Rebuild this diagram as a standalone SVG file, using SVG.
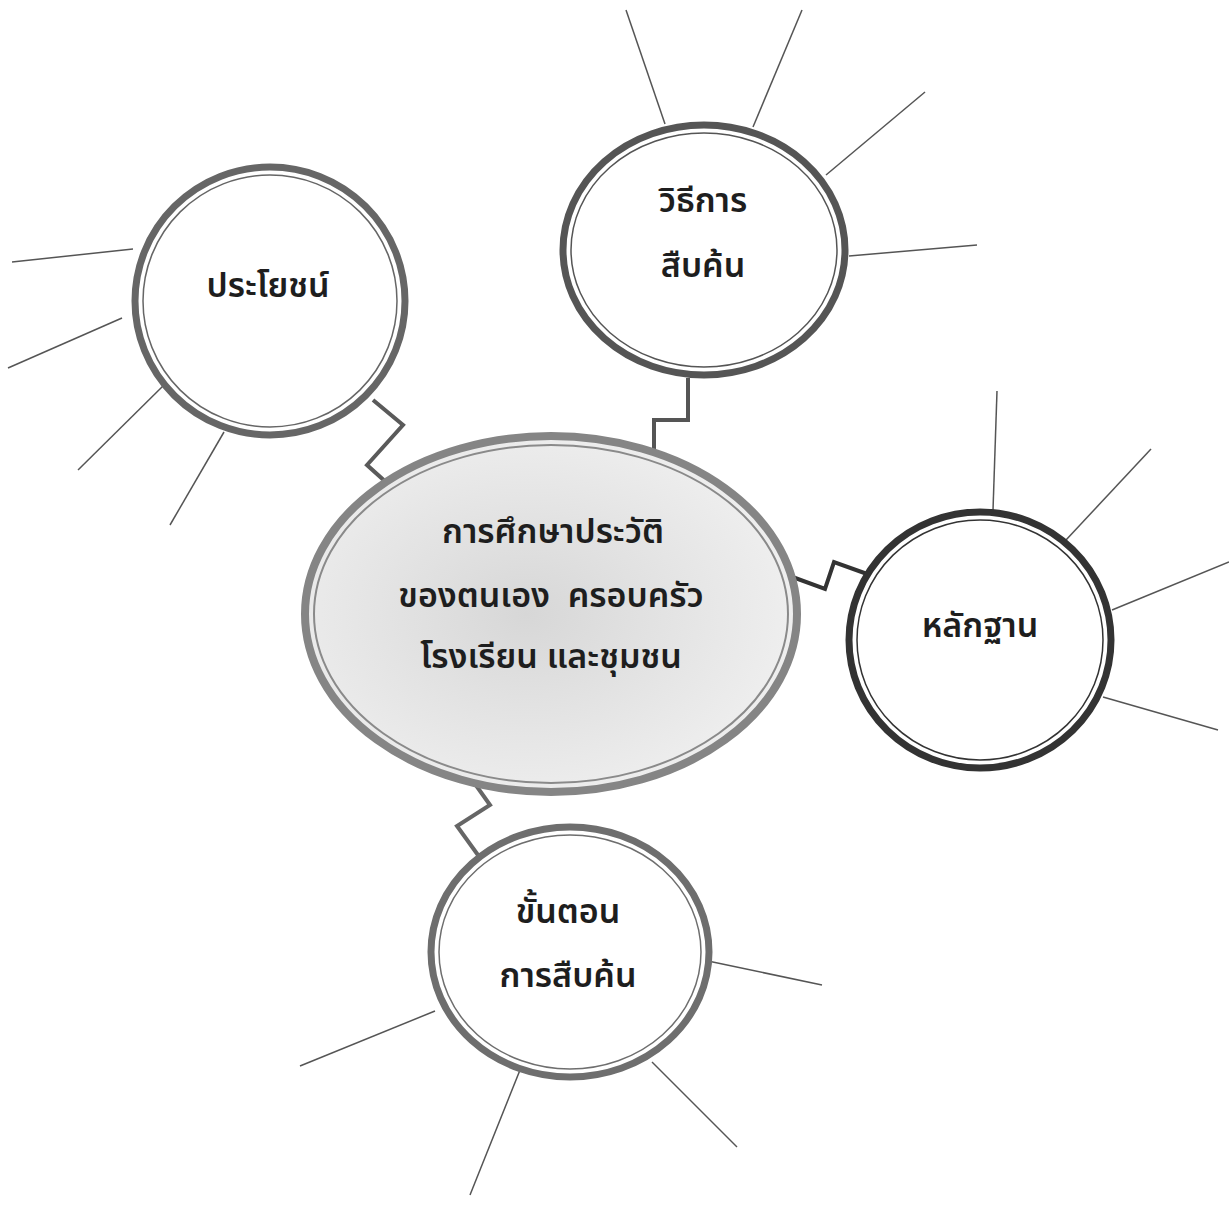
<svg xmlns="http://www.w3.org/2000/svg" width="1229" height="1210" viewBox="0 0 1229 1210">
<defs>
<radialGradient id="cg" cx="0.45" cy="0.5" r="0.65">
<stop offset="0" stop-color="#d7d7d7"/>
<stop offset="1" stop-color="#f3f3f3"/>
</radialGradient>
</defs>
<style>
.t{font-family:"Noto Sans Thai","Noto Sans Thai Looped","Noto Sans","DejaVu Sans",sans-serif;font-size:34px;font-weight:600;fill:#1e1e1e;text-anchor:middle}
.ray{stroke:#555;stroke-width:1.5;fill:none}
.zz{fill:none;stroke-width:4;stroke-linejoin:miter}
</style>
<rect width="1229" height="1210" fill="#fff"/>
<g id="rays">
<line class="ray" x1="12" y1="262" x2="133" y2="249"/>
<line class="ray" x1="8" y1="368" x2="122" y2="318"/>
<line class="ray" x1="78" y1="470" x2="165" y2="384"/>
<line class="ray" x1="170" y1="525" x2="224" y2="432"/>
<line class="ray" x1="626" y1="10" x2="665" y2="124"/>
<line class="ray" x1="802" y1="10" x2="753" y2="127"/>
<line class="ray" x1="925" y1="92" x2="826" y2="175"/>
<line class="ray" x1="977" y1="245" x2="849" y2="256"/>
<line class="ray" x1="997" y1="391" x2="993" y2="510"/>
<line class="ray" x1="1151" y1="449" x2="1066" y2="540"/>
<line class="ray" x1="1229" y1="562" x2="1112" y2="610"/>
<line class="ray" x1="1218" y1="730" x2="1103" y2="697"/>
<line class="ray" x1="708" y1="961" x2="822" y2="985"/>
<line class="ray" x1="300" y1="1066" x2="435" y2="1011"/>
<line class="ray" x1="652" y1="1062" x2="737" y2="1147"/>
<line class="ray" x1="522" y1="1065" x2="470" y2="1195"/>
</g>
<g id="connectors">
<polyline class="zz" stroke="#5a5a5a" points="373,400 403,425 367,465 397,492"/>
<polyline class="zz" stroke="#555" points="688,378 688,420 654,420 654,463"/>
<polyline class="zz" stroke="#333" points="787,575 825,589 834,562 870,575"/>
<polyline class="zz" stroke="#666" points="463,767 490,805 457,826 483,862"/>
</g>
<g id="center">
<ellipse cx="551" cy="614" rx="246" ry="178" fill="url(#cg)" stroke="#858585" stroke-width="8"/>
<ellipse cx="551" cy="614" rx="237" ry="169" fill="none" stroke="#8a8a8a" stroke-width="2"/>
<text class="t" x="553" y="543">การศึกษาประวัติ</text>
<text class="t" x="551" y="607" xml:space="preserve">ของตนเอง  ครอบครัว</text>
<text class="t" x="551" y="668">โรงเรียน และชุมชน</text>
</g>
<g id="prayot">
<ellipse cx="270" cy="301" rx="135" ry="134" fill="#fff" stroke="#666" stroke-width="7"/>
<ellipse cx="270" cy="301" rx="127" ry="126" fill="none" stroke="#666" stroke-width="1.5"/>
<text class="t" x="268" y="297">ประโยชน์</text>
</g>
<g id="withi">
<ellipse cx="704" cy="250" rx="141" ry="125" fill="#fff" stroke="#555" stroke-width="7"/>
<ellipse cx="704" cy="250" rx="133" ry="117" fill="none" stroke="#555" stroke-width="1.5"/>
<text class="t" x="703" y="212">วิธีการ</text>
<text class="t" x="703" y="277">สืบค้น</text>
</g>
<g id="lakthan">
<ellipse cx="980" cy="640" rx="131" ry="128" fill="#fff" stroke="#333" stroke-width="7"/>
<ellipse cx="980" cy="640" rx="123" ry="120" fill="none" stroke="#333" stroke-width="1.5"/>
<text class="t" x="980" y="637">หลักฐาน</text>
</g>
<g id="khanton">
<ellipse cx="570" cy="952" rx="139" ry="125" fill="#fff" stroke="#6e6e6e" stroke-width="7"/>
<ellipse cx="570" cy="952" rx="131" ry="117" fill="none" stroke="#6e6e6e" stroke-width="1.5"/>
<text class="t" x="568" y="923">ขั้นตอน</text>
<text class="t" x="568" y="987">การสืบค้น</text>
</g>
</svg>
